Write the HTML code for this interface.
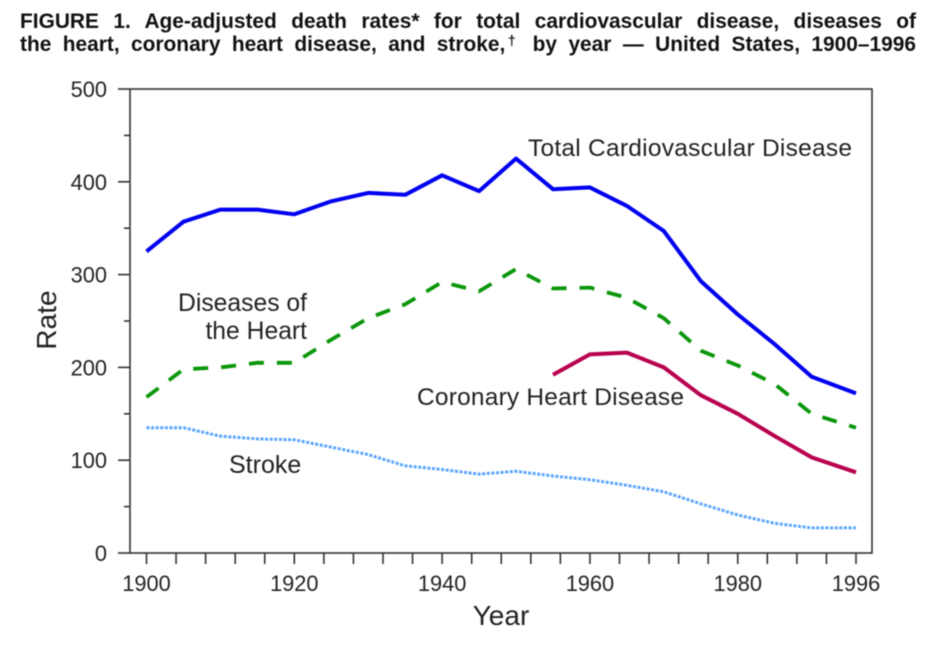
<!DOCTYPE html>
<html lang="en">
<head>
<meta charset="utf-8">
<title>Figure 1</title>
<style>
html,body{margin:0;padding:0;background:#fff;}
body{width:936px;height:648px;overflow:hidden;position:relative;font-family:"Liberation Sans",sans-serif;}
#chart{position:absolute;left:0;top:0;filter:blur(0.45px);}
text{font-family:"Liberation Sans",sans-serif;fill:#222;}
.title-line{position:absolute;left:20px;width:896px;height:23px;line-height:23px;font-size:20.9px;font-weight:700;color:#111;text-align:justify;text-align-last:justify;filter:blur(0.45px);}
.title-line sup{position:relative;top:-6px;margin-left:-3px;font-size:14px;line-height:0;vertical-align:baseline;}
</style>
</head>
<body>
<div class="title-line" style="top:10px">FIGURE 1. Age-adjusted death rates* for total cardiovascular disease, diseases of</div>
<div class="title-line" style="top:33px">the heart, coronary heart disease, and stroke,<sup>†</sup> by year — United States, 1900–1996</div>
<svg id="chart" width="936" height="648" viewBox="0 0 936 648">
  <g id="axes"></g>
  <g id="series"></g>
  <text x="528" y="156" font-size="24.5" textLength="324" lengthAdjust="spacing">Total Cardiovascular Disease</text>
  <text x="307" y="311" font-size="24.7" text-anchor="end">Diseases of</text>
  <text x="307" y="339" font-size="24.7" text-anchor="end">the Heart</text>
  <text x="417" y="405" font-size="24.5" textLength="267" lengthAdjust="spacing">Coronary Heart Disease</text>
  <text x="229" y="473" font-size="25">Stroke</text>
  <text x="501" y="625" font-size="28" text-anchor="middle">Year</text>
  <text transform="translate(56,320) rotate(-90)" font-size="28" text-anchor="middle">Rate</text>
</svg>
<script>
const years = [1900,1905,1910,1915,1920,1925,1930,1935,1940,1945,1950,1955,1960,1965,1970,1975,1980,1985,1990,1996];
const totalCvd = [325,357,370,370,365,379,388,386,407,390,425,392,394,374,347,293,257,225,190,172];
const heartDisease = [168,198,200,205,205,230,253,268,292,282,306,285,286,275,253,218,202,182,150,135];
const coronaryYears = [1955,1960,1965,1970,1975,1980,1985,1990,1996];
const coronary = [192,214,216,200,170,150,126,103,87];
const stroke = [135,135,126,123,122,114,106,94,90,85,88,83,79,73,66,53,41,32,27,27];
const yTickLabels = [0,100,200,300,400,500];
const yMinorTicks = [50,150,250,350,450];
const xTickLabels = [1900,1920,1940,1960,1980,1996];
const xTicks = [1900,1904,1908,1912,1916,1920,1924,1928,1932,1936,1940,1944,1948,1952,1956,1960,1964,1968,1972,1976,1980,1984,1988,1992,1996];

const NS = 'http://www.w3.org/2000/svg';
function xScale(year){ return 146.5 + (year - 1900) * (856 - 146.5) / 96; }
function yScale(rate){ return 553 - rate * (553 - 89) / 500; }
function make(tag, parent, attrs){
  const el = document.createElementNS(NS, tag);
  Object.keys(attrs).forEach(function(k){ el.setAttribute(k, attrs[k]); });
  parent.appendChild(el);
  return el;
}
const axes = document.getElementById('axes');
const seriesGroup = document.getElementById('series');

const frame = make('rect', axes, {x:130, y:89, width:742, height:464, fill:'none', stroke:'#333', 'stroke-width':1.6});



yTickLabels.forEach(function(v){
  const tick = make('line', axes, {x1:118, x2:130, y1:yScale(v), y2:yScale(v), stroke:'#333', 'stroke-width':1.6});
  
  
  const label = make('text', axes, {x:107, y:yScale(v) + 8, 'font-size':21.8, 'text-anchor':'end'});
  label.textContent = v;
  
  
});
yMinorTicks.forEach(function(v){
  const tick = make('line', axes, {x1:124, x2:130, y1:yScale(v), y2:yScale(v), stroke:'#333', 'stroke-width':1.6});
  
  
});
xTicks.forEach(function(v){
  const tick = make('line', axes, {x1:xScale(v), x2:xScale(v), y1:553, y2:564, stroke:'#333', 'stroke-width':1.6});
  
  
});
xTickLabels.forEach(function(v){
  const label = make('text', axes, {x:xScale(v), y:591, 'font-size':21.8, 'text-anchor':'middle'});
  label.textContent = v;
  
  
});

function pathFor(xs, ys){
  return xs.map(function(x, i){
    return (i ? 'L' : 'M') + xScale(x).toFixed(1) + ' ' + yScale(ys[i]).toFixed(1);
  }).join(' ');
}
const lineTotal = make('path', seriesGroup, {d:pathFor(years, totalCvd), fill:'none', stroke:'#0000f0', 'stroke-width':4, 'stroke-linejoin':'round'});


const lineHeart = make('path', seriesGroup, {d:pathFor(years, heartDisease), fill:'none', stroke:'#0a960a', 'stroke-width':3.8, 'stroke-dasharray':'15 13', 'stroke-linejoin':'round'});


const lineCoronary = make('path', seriesGroup, {d:pathFor(coronaryYears, coronary), fill:'none', stroke:'#b8004f', 'stroke-width':4, 'stroke-linejoin':'round'});


const lineStroke = make('path', seriesGroup, {d:pathFor(years, stroke), fill:'none', stroke:'#5aa5ff', 'stroke-width':3, 'stroke-dasharray':'3 1.6'});


</script>
</body>
</html>
